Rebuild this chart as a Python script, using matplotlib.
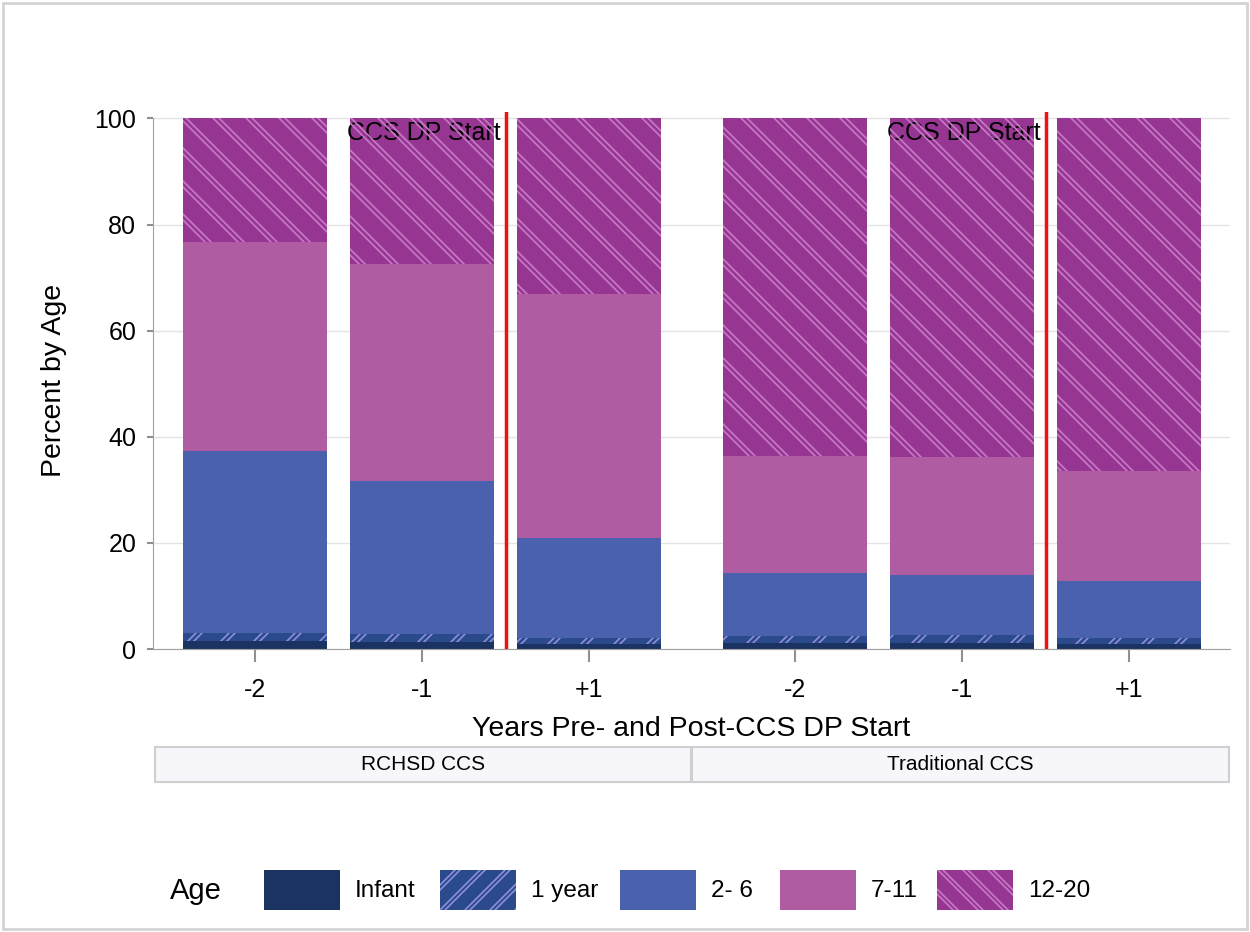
import matplotlib
matplotlib.use('Agg')
import matplotlib.pyplot as plt
import numpy as np
from matplotlib.patches import Rectangle
from matplotlib.collections import LineCollection
from matplotlib.transforms import IdentityTransform

plt.rcParams['font.family'] = ['Liberation Sans', 'DejaVu Sans']

# data
groups = ['RCHSD CCS', 'Traditional CCS']
years = ['-2', '-1', '+1']
age_labels = ['Infant', '1 year', '2- 6', '7-11', '12-20']
infant = [1.5, 1.3, 1.0, 1.1, 1.2, 0.9]
one_year = [1.5, 1.5, 1.0, 1.3, 1.4, 1.1]
two_six = [34.3, 28.8, 18.9, 11.9, 11.3, 10.8]
seven_eleven = [39.5, 40.9, 46.1, 22.0, 22.2, 20.7]
twelve_twenty = [23.2, 27.5, 33.0, 63.7, 63.9, 66.5]
dp_start = [1.503, 4.737]
bar_x = [0, 1, 2, 3.234, 4.234, 5.234]

colors = ['#1b3360', '#2b4a8c', '#4a62ad', '#b05ca3', '#973592']
hatch_col = {1: '#8d8fdc', 4: '#c77ac6'}
hatch_dir = {1: 1, 4: -1}


def add_hatch(fig, patch, direction, color, step=33, pair=6):
    # double diagonal lines in pixel space, clipped to the patch
    W, H = fig.bbox.width, fig.bbox.height
    segs = []
    for c in np.arange(-H - W, W + H, step):
        for off in (0, pair):
            cc = c + off
            if direction > 0:
                segs.append([(cc, 0), (cc + H, H)])
            else:
                segs.append([(cc, H), (cc + H, 0)])
    lc = LineCollection(segs, colors=color, linewidths=1.2, transform=IdentityTransform())
    lc.set_clip_path(patch)
    fig.add_artist(lc)


fig = plt.figure(figsize=(12.5, 9.32), dpi=100)
ax = fig.add_axes([0.1224, 0.3036, 0.8616, 0.5762])

layers = [infant, one_year, two_six, seven_eleven, twelve_twenty]
bottom = np.zeros(len(bar_x))
bar_sets = []
for i, vals in enumerate(layers):
    bars = ax.bar(bar_x, vals, width=0.862, bottom=bottom, color=colors[i],
                  edgecolor='none', zorder=2)
    bar_sets.append(bars)
    bottom = bottom + np.array(vals)

ax.set_xlim(-0.61, 5.84)
ax.set_ylim(0, 101.2)
ax.set_yticks([0, 20, 40, 60, 80, 100])
ax.set_xticks(bar_x)
ax.set_xticklabels(years * 2)
ax.grid(axis='y', color='#e4e4e4', linewidth=1, zorder=0)
ax.tick_params(axis='both', colors='#909090', labelcolor='black', labelsize=18, width=1.5)
ax.tick_params(axis='x', length=9, pad=12)
ax.tick_params(axis='y', length=4, pad=8)
for s in ['top', 'right']:
    ax.spines[s].set_visible(False)
ax.spines['left'].set_color('#a0a0a0')
ax.spines['left'].set_bounds(0, 100)
ax.spines['bottom'].set_color('#a0a0a0')
ax.set_ylabel('Percent by Age', fontsize=20.5, labelpad=20)
ax.set_xlabel('Years Pre- and Post-CCS DP Start', fontsize=20.5, labelpad=10)

for xv in dp_start:
    ax.axvline(xv, color='#ee1111', linewidth=2.5, zorder=4)
    ax.text(xv - 0.03, 99.6, 'CCS DP Start', ha='right', va='top', fontsize=18, zorder=5)

fig.canvas.draw()
for i in (1, 4):
    for b in bar_sets[i]:
        add_hatch(fig, b, hatch_dir[i], hatch_col[i])

# group strips
W, H = 1250, 932
strips = [(155, 691), (692, 1229)]
for (x0, x1), g in zip(strips, groups):
    fig.add_artist(Rectangle((x0 / W, 1 - 782 / H), (x1 - x0) / W, 35 / H,
                             transform=fig.transFigure, facecolor='#f6f6fb',
                             edgecolor='#cfcfcf', linewidth=1.5))
    fig.text((x0 + x1) / 2 / W, 1 - 765 / H, g, ha='center', va='center', fontsize=15)

# legend
fig.text(170 / W, 1 - 891 / H, 'Age', ha='left', va='center', fontsize=21)
sw_x = [264, 440, 620, 780, 937]
for i, (sx, lab) in enumerate(zip(sw_x, age_labels)):
    r = Rectangle((sx / W, 1 - 910 / H), 76 / W, 40 / H, transform=fig.transFigure,
                  facecolor=colors[i], edgecolor='none')
    fig.add_artist(r)
    if i in hatch_dir:
        add_hatch(fig, r, hatch_dir[i], hatch_col[i], step=25, pair=5)
    fig.text((sx + 91) / W, 1 - 891 / H, lab, ha='left', va='center', fontsize=17.5)

# outer border
fig.add_artist(Rectangle((3 / W, 3 / H), 1244 / W, 926 / H, transform=fig.transFigure,
                         facecolor='none', edgecolor='#d4d4d4', linewidth=2))

fig.savefig('out.png', dpi=100)
